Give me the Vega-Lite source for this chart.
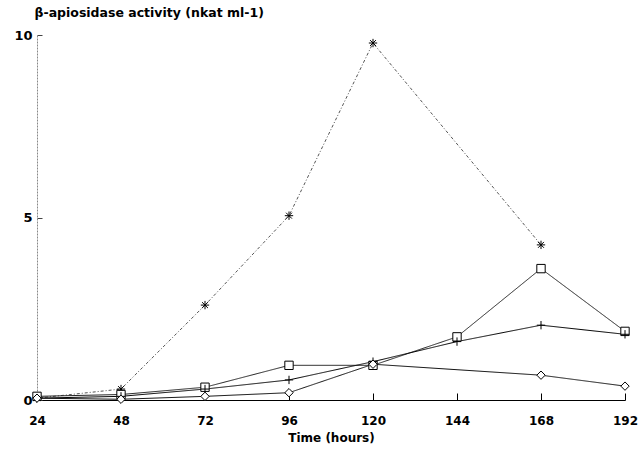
{
  "$schema": "https://vega.github.io/schema/vega-lite/v6.json",
  "width": 588,
  "height": 365,
  "autosize": "none",
  "padding": {"left": 37, "top": 35, "right": 13, "bottom": 50},
  "background": "white",
  "config": {
    "view": {"stroke": null},
    "axis": {"labelFont": "DejaVu Sans", "titleFont": "DejaVu Sans", "labelFontWeight": "bold", "titleFontWeight": "bold", "labelColor": "black", "titleColor": "black", "grid": false}
  },
  "data": {
    "values": [
      {"series": "A", "time": 24, "value": 0.05},
      {"series": "A", "time": 48, "value": 0.3},
      {"series": "A", "time": 72, "value": 2.6},
      {"series": "A", "time": 96, "value": 5.05},
      {"series": "A", "time": 120, "value": 9.78},
      {"series": "A", "time": 168, "value": 4.25},
      {"series": "B", "time": 24, "value": 0.1},
      {"series": "B", "time": 48, "value": 0.15},
      {"series": "B", "time": 72, "value": 0.35},
      {"series": "B", "time": 96, "value": 0.95},
      {"series": "B", "time": 120, "value": 0.95},
      {"series": "B", "time": 144, "value": 1.73},
      {"series": "B", "time": 168, "value": 3.6},
      {"series": "B", "time": 192, "value": 1.88},
      {"series": "C", "time": 24, "value": 0.05},
      {"series": "C", "time": 48, "value": 0.1},
      {"series": "C", "time": 72, "value": 0.3},
      {"series": "C", "time": 96, "value": 0.55},
      {"series": "C", "time": 120, "value": 1.05},
      {"series": "C", "time": 144, "value": 1.6},
      {"series": "C", "time": 168, "value": 2.05},
      {"series": "C", "time": 192, "value": 1.8},
      {"series": "D", "time": 24, "value": 0.05},
      {"series": "D", "time": 48, "value": 0.02},
      {"series": "D", "time": 72, "value": 0.1},
      {"series": "D", "time": 96, "value": 0.2},
      {"series": "D", "time": 120, "value": 0.98},
      {"series": "D", "time": 168, "value": 0.68},
      {"series": "D", "time": 192, "value": 0.38}
    ]
  },
  "encoding": {
    "x": {
      "field": "time", "type": "quantitative",
      "scale": {"domain": [24, 192], "nice": false, "zero": false},
      "axis": {"values": [24, 48, 72, 96, 120, 144, 168, 192], "title": "Time (hours)", "labelFontSize": 12, "titleFontSize": 12, "labelPadding": 22, "titlePadding": 6, "tickSize": -7, "tickColor": "black", "domainColor": "black", "labelFlush": false}
    },
    "y": {
      "field": "value", "type": "quantitative",
      "scale": {"domain": [0, 10], "nice": false},
      "axis": {"values": [0, 5, 10], "labelFontSize": 13, "tickSize": -5, "tickColor": "#444", "domainColor": "#888", "domainDash": [2, 1], "labelPadding": 10, "title": "β-apiosidase activity (nkat ml-1)", "titleAngle": 0, "titleAlign": "left", "titleBaseline": "bottom", "titleX": -3, "titleY": -16, "titleFontSize": 12.5}
    },
    "detail": {"field": "series"}
  },
  "layer": [
    {
      "mark": {"type": "line", "strokeWidth": 1},
      "encoding": {
        "strokeDash": {"field": "series", "type": "nominal", "scale": {"domain": ["A", "B", "C", "D"], "range": [[3, 2, 1, 2], [1, 0], [1, 0], [1, 0]]}, "legend": null},
        "color": {"field": "series", "type": "nominal", "scale": {"domain": ["A", "B", "C", "D"], "range": ["#555555", "#222222", "#000000", "#111111"]}, "legend": null}
      }
    },
    {
      "mark": {"type": "point", "filled": false, "stroke": "black", "fill": "white", "fillOpacity": 1, "strokeWidth": 1, "size": 70},
      "encoding": {
        "shape": {"field": "series", "type": "nominal", "scale": {"domain": ["A", "B", "C", "D"], "range": ["M-1,0L1,0M0,-1L0,1M-0.7,-0.7L0.7,0.7M-0.7,0.7L0.7,-0.7", "square", "M-1,0L1,0M0,-1L0,1", "diamond"]}, "legend": null}
      }
    }
  ]
}
